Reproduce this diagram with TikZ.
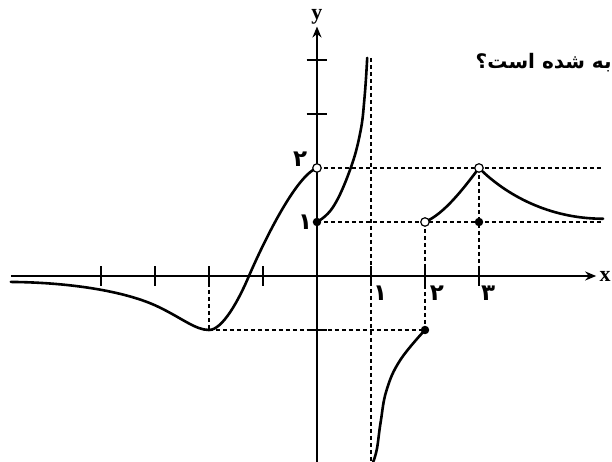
\documentclass[tikz,border=0pt]{standalone}
\usepackage{fontspec}
\usetikzlibrary{arrows.meta}
\newfontfamily\fa[Script=Arabic]{DejaVu Sans}
\newfontfamily\lat{Liberation Serif}
\TeXXeTstate=1
\begin{document}
\begin{tikzpicture}[x=54pt,y=54pt,
 axis/.style={line width=2pt},
 curve/.style={line width=2.6pt, line cap=round},
 guide/.style={line width=1.5pt, dash pattern=on 4pt off 3pt},
 tick/.style={line width=2pt},
 opendot/.style={circle, draw, line width=1.2pt, fill=white, inner sep=0pt, minimum size=8.5pt},
 fulldot/.style={circle, fill, inner sep=0pt, minimum size=8.5pt},
 digit/.style={font=\fa\bfseries\fontsize{23}{23}\selectfont, inner sep=0pt},
 axlabel/.style={font=\lat\bfseries\fontsize{22}{22}\selectfont, inner sep=0pt},
 tip/.style={-{Stealth[length=11pt,width=9pt]}}]
\useasboundingbox (-5.870,-3.444) rectangle (5.463,5.111);
% key points
\coordinate (O) at (0,0);
\coordinate (P02) at (0,2);
\coordinate (P01) at (0,1);
\coordinate (P21) at (2,1);
\coordinate (P32) at (3,2);
\coordinate (P31) at (3,1);
\coordinate (P2m) at (2,-1);
\coordinate (Pmin) at (-2,-1);
\coordinate (X2) at (-2,0);
\coordinate (X3) at (3,0);
\coordinate (Y2r) at (5.3,2);
\coordinate (Y1r) at (5.3,1);
\coordinate (AsT) at (1,4.04);
\coordinate (AsB) at (1,-3.444);
% guides
\draw[guide] (P02) -- (Y2r);
\draw[guide] (P01) -- (Y1r);
\draw[guide] (AsT) -- (AsB);
\draw[guide] (P21) -- (P2m);
\draw[guide] (P32) -- (X3);
\draw[guide] (X2) -- (Pmin);
\draw[guide] (Pmin) -- (P2m);
% axes
\coordinate (XL) at (-5.67,0);
\coordinate (XR) at (5.17,0);
\coordinate (YB) at (0,-3.444);
\coordinate (YT) at (0,4.62);
\draw[axis,tip] (XL) -- (XR);
\draw[axis,tip] (YB) -- (YT);
\foreach \t in {-4,-3,-2,-1,1,2,3}{\draw[tick] (\t,-0.18) -- (\t,0.18);}
\foreach \t in {-1,3,4}{\draw[tick] (-0.19,\t) -- (0.19,\t);}
% curves
\draw[curve] (-5.67,-0.11) .. controls (-4.5,-0.12) and (-3.5,-0.3) .. (-2.94,-0.57)
  .. controls (-2.5,-0.78) and (-2.25,-1) .. (Pmin)
  .. controls (-1.75,-1) and (-1.45,-0.45) .. (-1.26,0)
  .. controls (-1.0,0.6) and (-0.4,1.85) .. (P02);
\draw[curve] plot[smooth,tension=0.7] coordinates {(0,1) (0.3,1.28) (0.61,1.96) (0.8,2.65) (0.88,3.3) (0.93,4.04)};
\draw[curve] plot[smooth,tension=0.7] coordinates {(1.04,-3.444) (1.11,-3.2) (1.18,-2.7) (1.29,-2.11) (1.54,-1.56) (2,-1)};
\draw[curve] (P21) .. controls (2.35,1.15) and (2.7,1.6) .. (P32);
\draw[curve] (P32) .. controls (3.5,1.5) and (4.3,1.06) .. (5.3,1.06);
% dots
\node[opendot] (d02) at (P02) {};
\node[fulldot] (d01) at (P01) {};
\node[opendot] (d21) at (P21) {};
\node[opendot] (d32) at (P32) {};
\node[fulldot] (d31) at (P31) {};
\node[fulldot] (d2m) at (P2m) {};
% labels
\node[axlabel] (ly) at (0,4.80) {y};
\node[axlabel,anchor=west] (lx) at (5.23,0.0) {x};
\node[digit] (l2y) at (-0.31,2.17) {۲};
\node[digit] (l1y) at (-0.22,1.0) {۱};
\node[digit] (l1x) at (1.17,-0.31) {۱};
\node[digit] (l2x) at (2.22,-0.31) {۲};
\node[digit] (l3x) at (3.17,-0.32) {۳};
\node[font=\fa\bfseries\fontsize{20}{20}\selectfont, inner sep=0pt, anchor=east] (q) at (5.46,3.95) {\beginR به شده است؟\endR};
\end{tikzpicture}
\end{document}
